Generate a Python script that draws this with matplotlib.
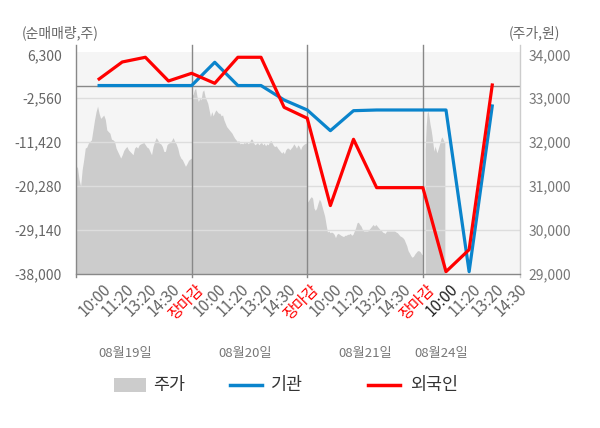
import numpy as np
import matplotlib
matplotlib.use("Agg")
import matplotlib.pyplot as plt
from matplotlib.lines import Line2D
from matplotlib.patches import Rectangle
from matplotlib.transforms import blended_transform_factory, ScaledTranslation

plt.rcParams['font.family'] = ['Noto Sans CJK KR', 'DejaVu Sans']

# ---------------- data ----------------
tick_labels = ['10:00', '11:20', '13:20', '14:30', '장마감',
               '10:00', '11:20', '13:20', '14:30', '장마감',
               '10:00', '11:20', '13:20', '14:30', '장마감',
               '10:00', '11:20', '13:20', '14:30']
dates = ['08월19일', '08월20일', '08월21일', '08월24일']

# net buying (주), one value per tick slot 1..18
inst = [0, 0, 0, 0, 0,
        4690, 0, 0, -2910, -4930,
        -9100, -5070, -4930, -4930, -4930,
        -4930, -37530, -4120]
foreign = [1320, 4750, 5700, 920, 2470,
           450, 5700, 5700, -4390, -6600,
           -24200, -10840, -20590, -20590, -20590,
           -37530, -33090, 110]

# intraday price (원)
price_d1 = [31466, 31414, 31150, 31000, 31376, 31600, 31865, 31887, 31977, 32015,
            32053, 32278, 32504, 32692, 32820, 32654, 32541, 32579, 32617, 32519,
            32278, 32240, 32203, 32068, 32053, 32015, 31865, 31789, 31714, 31639,
            31714, 31812, 31865, 31902, 31827, 31789, 31752, 31714, 31865, 31902,
            31865, 31940, 31962, 31977, 31992, 31940, 31887, 31865, 31789, 31714,
            31902, 32015, 32105, 32053, 31977, 31962, 31902, 31789, 31789, 31940,
            31977, 31992, 32038, 32105, 32015, 31962, 31865, 31714, 31639, 31601,
            31526, 31451, 31511, 31586, 31617, 31639]
price_d2 = [33114, 33076, 33189, 33227, 33038, 32924, 33000, 32962, 33152, 33189,
            33038, 32962, 32886, 32735, 32583, 32697, 32598, 32674, 32735, 32697,
            32659, 32659, 32598, 32621, 32508, 32432, 32356, 32318, 32280, 32242,
            32205, 32144, 32091, 32053, 32015, 32038, 31962, 31977, 31962, 31992,
            31977, 32015, 31962, 31992, 32068, 32068, 31992, 31939, 31962, 31992,
            31939, 31977, 31992, 31939, 31977, 31917, 31962, 31939, 32015, 32038,
            31977, 31917, 31902, 31917, 31864, 31826, 31788, 31750, 31788, 31735,
            31826, 31864, 31864, 31826, 31864, 31902, 31962, 31917, 31864, 31939,
            31902, 31826, 31902, 31939, 31962, 31977, 31992]
price_d3 = [30627, 30672, 30724, 30761, 30724, 30500, 30448, 30500, 30612, 30701,
            30649, 30537, 30425, 30313, 30127, 29955, 29978, 29940, 29955, 29940,
            29903, 29828, 29903, 29925, 29903, 29881, 29866, 29851, 29881, 29881,
            29903, 29903, 29925, 29881, 29903, 29978, 30052, 30164, 30179, 30127,
            30090, 30015, 29978, 29978, 29978, 29978, 30015, 30052, 30090, 30127,
            30090, 30127, 30090, 30052, 30015, 30000, 29955, 29940, 29925, 29978,
            29978, 29978, 29978, 29978, 29978, 29978, 29955, 29940, 29903, 29866,
            29851, 29828, 29791, 29716, 29642, 29530, 29478, 29418, 29381, 29403,
            29455, 29493, 29530, 29530, 29507, 29455, 29433]
price_d4 = [31833, 32364, 32667, 32705, 32553, 32402, 32288, 32136, 31947, 31795,
            31909, 31833, 31758, 31833, 31909, 31985, 32076, 32121, 32076, 32023,
            32000]

left_ticks = [6300, -2560, -11420, -20280, -29140, -38000]
right_ticks = [34000, 33000, 32000, 31000, 30000, 29000]

# ---------------- figure ----------------
W, H = 600, 428
fig = plt.figure(figsize=(W / 100, H / 100), dpi=100)

def fx(px):
    return px / W

def fy(py):
    return 1 - py / H

ax_l, ax_r, ax_t, ax_b = 76, 520, 52, 274
ax = fig.add_axes([fx(ax_l), fy(ax_b), fx(ax_r - ax_l), fy(ax_t) - fy(ax_b)])
ax2 = ax.twinx()

ax2.set_zorder(0)
ax.set_zorder(1)
ax.patch.set_visible(False)
ax2.patch.set_visible(True)
ax2.set_facecolor('#f5f5f5')

xmax = 19.2
ax.set_xlim(0, xmax)
ptop = 2.3 / 219.7
ax.set_ylim(-38000, 6300 + ptop * 44300)
ax2.set_ylim(29000, 34000 + ptop * 5000)

# price area
for d, pr in enumerate([price_d1, price_d2, price_d3]):
    xs = np.linspace(5 * d, 5 * d + 5, len(pr))
    ax2.fill_between(xs, pr, 29000, color='#cccccc', linewidth=0)
xs4 = np.linspace(15.1, 15.95, len(price_d4))
ax2.fill_between(xs4, price_d4, 29000, color='#cccccc', linewidth=0)

# grid
for v in left_ticks[1:-1]:
    ax.axhline(v, color='#dddddd', lw=1.0, zorder=1)
ax.axhline(0, color='#888888', lw=1.0, zorder=1.5)

# spines off
for a in (ax, ax2):
    for s in a.spines.values():
        s.set_visible(False)

# day separators and axis lines extending a bit beyond the plot area
btr = blended_transform_factory(ax.transData, fig.transFigure)
for xv in [0, 5, 10, 15]:
    ax.add_line(Line2D([xv, xv], [fy(45), fy(277)], transform=btr,
                       color='#888888', lw=1.0, clip_on=False, zorder=2))
ax.add_line(Line2D([xmax, xmax], [fy(45), fy(277)], transform=btr,
                   color='#cccccc', lw=1.0, clip_on=False, zorder=2))
ax.add_line(Line2D([0, 1], [0, 0], transform=ax.transAxes, color='#888888', lw=1.0,
                   clip_on=False, zorder=3))

# lines
slots = np.arange(1, len(inst) + 1)
ax.plot(slots, inst, color='#0a84cc', lw=2.3, zorder=4)
ax.plot(slots, foreign, color='#ff0000', lw=2.3, zorder=5)

# y ticks
ax.set_yticks(left_ticks)
ax.set_yticklabels([f'{v:,}' for v in left_ticks])
ax.tick_params(axis='y', length=0, pad=10, labelsize=10, labelcolor='#666666')
ax2.set_yticks(right_ticks)
ax2.set_yticklabels([f'{v:,}' for v in right_ticks])
ax2.tick_params(axis='y', length=0, pad=6, labelsize=10, labelcolor='#777777')

# x ticks
ax.set_xticks(np.arange(1, len(tick_labels) + 1))
ax.set_xticklabels(tick_labels, rotation=45, ha='right', va='top',
                   rotation_mode='anchor')
ax.tick_params(axis='x', length=0, pad=5, labelsize=11, labelcolor='#666666')
off = ScaledTranslation(3 / 100, 0, fig.dpi_scale_trans)
for i, t in enumerate(ax.get_xticklabels()):
    t.set_transform(t.get_transform() + off)
    if tick_labels[i] == '장마감':
        t.set_color('#ff0000')
    if i == 15:
        t.set_color('#222222')

# axis titles
fig.text(fx(22), fy(33), '(순매매량,주)', fontsize=10, color='#666666', ha='left', va='center')
fig.text(fx(509), fy(33), '(주가,원)', fontsize=10, color='#666666', ha='left', va='center')

# date labels
for txt, xpx in zip(dates, [125, 245, 365, 441]):
    fig.text(fx(xpx), fy(353), txt, fontsize=9.5, color='#777777', ha='center', va='center')

# legend
trans = fig.transFigure
ly = 385
fig.add_artist(Rectangle((fx(114), fy(392)), fx(32), fy(378) - fy(392), transform=trans,
                         facecolor='#cccccc', edgecolor='none'))
fig.text(fx(153), fy(ly), '주가', fontsize=12.5, color='#333333', ha='left', va='center')
fig.add_artist(Line2D([fx(230), fx(262)], [fy(ly), fy(ly)], transform=trans,
                      color='#0a84cc', lw=2.5))
fig.text(fx(271), fy(ly), '기관', fontsize=12.5, color='#333333', ha='left', va='center')
fig.add_artist(Line2D([fx(368), fx(400)], [fy(ly), fy(ly)], transform=trans,
                      color='#ff0000', lw=2.5))
fig.text(fx(410), fy(ly), '외국인', fontsize=12.5, color='#333333', ha='left', va='center')

fig.savefig('out.png', dpi=100, facecolor='white')
